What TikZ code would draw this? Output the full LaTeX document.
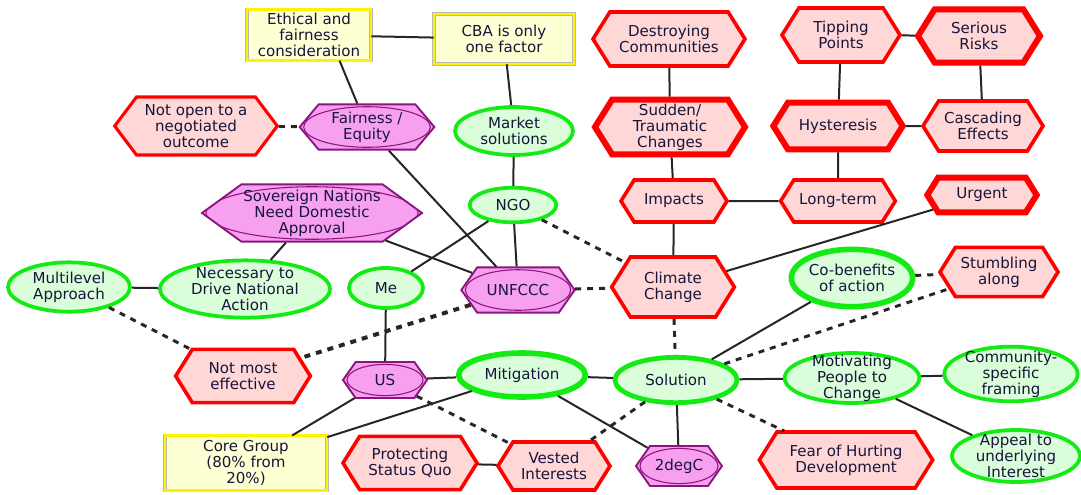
\documentclass[tikz,border=0pt]{standalone}
\usepackage{fontspec}
\setmainfont{DejaVu Sans}
\usepackage{tikz}
\usetikzlibrary{shapes.geometric, shapes.symbols, calc}
\definecolor{inkblue}{RGB}{22,22,60}
\definecolor{hexred}{RGB}{255,0,0}
\definecolor{hexpink}{RGB}{255,215,215}
\definecolor{leaf}{RGB}{20,235,20}
\definecolor{leaffill}{RGB}{218,253,218}
\definecolor{plum}{RGB}{140,20,125}
\definecolor{plumfill}{RGB}{248,160,240}
\definecolor{notefill}{RGB}{255,255,212}

\begin{document}
\begin{tikzpicture}[x=0.75pt, y=-0.75pt, font=\fontsize{11.3}{12}\selectfont,
base/.style={align=center, text=inkblue, inner sep=0pt},
redhex/.style={base, signal, signal to=east and west, signal pointer angle=116,
draw=hexred, fill=hexpink, line width=2.7pt},
redhexbold/.style={redhex, line width=4.5pt},
purplehex/.style={base, signal, signal to=east and west, signal pointer angle=110,
draw=plum, fill=plumfill, line width=1.4pt,
path picture={\draw[plum, line width=0.8pt] let \p1=($(path picture bounding box.north east)-(path picture bounding box.center)$) in
(path picture bounding box.center) ellipse [x radius=\x1-3pt, y radius=\y1-1.8pt];}},
greenell/.style={base, ellipse, inner sep=-6pt, draw=leaf, fill=leaffill, line width=2.8pt},
greenbold/.style={greenell, line width=4.2pt},
note/.style={base, rectangle, draw=gray!55, double=yellow, double distance=1.8pt,
line width=0.4pt, fill=notefill},
link/.style={line width=1.5pt, black!85},
weak/.style={link, line width=2.2pt, dash pattern=on 4.5pt off 4.5pt}]
  \useasboundingbox (0,0) rectangle (1081,494);
  % notes
  \node[note, minimum width=93pt, minimum height=38pt] (ethic) at (309,35) {Ethical and\\fairness\\consideration};
  \node[note, minimum width=105pt, minimum height=37.5pt] (cba) at (504,39) {CBA is only\\one factor};
  \node[note, minimum width=121.5pt, minimum height=41pt] (core) at (246,463) {Core Group\\(80\% from\\20\%)};
  % negotiation side
  \node[redhex, line width=2.3pt, signal pointer angle=106, minimum width=122pt, minimum height=43.5pt] (notopen) at (196,126) {Not open to a\\negotiated\\outcome};
  \node[purplehex, signal pointer angle=100, minimum width=101pt, minimum height=34pt] (fair) at (367,127) {Fairness /\\Equity};
  \node[purplehex, signal pointer angle=72, minimum width=165pt, minimum height=43pt] (sovereign) at (312,213) {Sovereign Nations\\Need Domestic\\Approval};
  \node[purplehex, minimum width=85pt, minimum height=34pt] (unfccc) at (518,290) {UNFCCC};
  \node[purplehex, minimum width=63pt, minimum height=27pt] (us) at (385,380) {US};
  \node[purplehex, minimum width=64.5pt, minimum height=30pt] (twodeg) at (679,466) {2degC};
  \node[greenell, minimum width=88.5pt, minimum height=36pt] (market) at (514,131) {Market\\solutions};
  \node[greenell, minimum width=65pt, minimum height=26pt] (ngo) at (513,205) {NGO};
  \node[greenell, minimum width=55.5pt, minimum height=30pt] (me) at (386,288) {Me};
  \node[greenell, minimum width=91.5pt, minimum height=37pt] (multi) at (69,287) {Multilevel\\Approach};
  \node[greenell, minimum width=127.5pt, minimum height=43pt] (necessary) at (245,289) {Necessary to\\Drive National\\Action};
  \node[redhex, minimum width=101pt, minimum height=40pt] (notmost) at (243,376) {Not most\\effective};
  % impacts side
  \node[redhex, minimum width=114pt, minimum height=40.5pt] (destroy) at (669,39) {Destroying\\Communities};
  \node[redhexbold, minimum width=112.5pt, minimum height=41pt] (sudden) at (670,127) {Sudden/\\Traumatic\\Changes};
  \node[redhex, minimum width=79.5pt, minimum height=31.5pt] (impacts) at (674,201) {Impacts};
  \node[redhex, minimum width=88.5pt, minimum height=40.5pt] (tipping) at (841,35) {Tipping\\Points};
  \node[redhexbold, minimum width=91.5pt, minimum height=40pt] (serious) at (979,36) {Serious\\Risks};
  \node[redhexbold, minimum width=97pt, minimum height=35pt] (hyster) at (838,126) {Hysteresis};
  \node[redhex, minimum width=90pt, minimum height=37.5pt] (cascade) at (983,126) {Cascading\\Effects};
  \node[redhex, minimum width=86pt, minimum height=31.5pt] (longterm) at (838,201) {Long-term};
  \node[redhexbold, minimum width=82pt, minimum height=26pt] (urgent) at (982,195) {Urgent};
  \node[redhex, minimum width=92pt, minimum height=45pt] (climate) at (673,287) {Climate\\Change};
  \node[redhex, minimum width=88.5pt, minimum height=37pt] (stumble) at (999,272) {Stumbling\\along};
  % solutions side
  \node[greenbold, minimum width=95pt, minimum height=33pt] (mitig) at (522,375) {Mitigation};
  \node[greenell, line width=3.6pt, minimum width=91.5pt, minimum height=34pt] (solution) at (676,380) {Solution};
  \node[greenbold, minimum width=91pt, minimum height=43pt] (cobenefit) at (852,278) {Co-benefits\\of action};
  \node[greenell, minimum width=101pt, minimum height=37.5pt] (motiv) at (852,378) {Motivating\\People to\\Change};
  \node[greenell, minimum width=100pt, minimum height=41pt] (community) at (1011,374) {Community-\\specific\\framing};
  \node[greenell, minimum width=96pt, minimum height=39pt] (appeal) at (1016,456) {Appeal to\\underlying\\Interest};
  \node[redhex, minimum width=100.5pt, minimum height=40pt] (protect) at (410,463) {Protecting\\Status Quo};
  \node[redhex, minimum width=84pt, minimum height=36pt] (vested) at (554,466) {Vested\\Interests};
  \node[redhex, minimum width=130pt, minimum height=42pt] (fear) at (846,460) {Fear of Hurting\\Development};

  \draw[link] (ethic.-40) -- (fair);
\foreach \from/\to in {ethic/cba,cba/market,market/ngo,fair/unfccc,ngo/unfccc,ngo/me,
    sovereign/unfccc,sovereign/necessary,multi/necessary,me/us,us/mitig,us/core,
    mitig/core,mitig/solution,mitig/twodeg,solution/twodeg,solution/cobenefit,
    solution/motiv,motiv/community,motiv/appeal,protect/vested,destroy/sudden,
    sudden/impacts,impacts/climate,impacts/longterm,longterm/hyster,hyster/tipping,
    hyster/cascade,tipping/serious,serious/cascade,urgent/climate}
    \draw[link] (\from) -- (\to);
\foreach \from/\to in {notopen/fair,ngo/climate,unfccc/climate,multi/notmost,
    climate/solution,cobenefit/stumble,solution/stumble,solution/vested,us/vested,
    solution/fear}
    \draw[weak] (\from) -- (\to);
  \draw[weak, line width=3pt] (unfccc) -- (notmost);
\end{tikzpicture}
\end{document}
